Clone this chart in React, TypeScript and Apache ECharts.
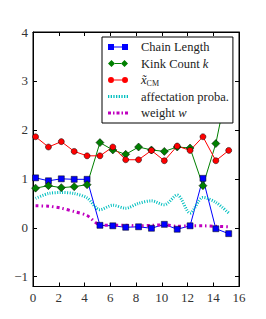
import React, { useEffect, useRef } from "react";
import * as echarts from "echarts";

const xValues = [0.2, 1.2, 2.2, 3.2, 4.2, 5.2, 6.2, 7.2, 8.2, 9.2, 10.2, 11.2, 12.2, 13.2, 14.2, 15.2];
const chainLength = [1.02, 0.96, 1.0, 0.99, 0.99, 0.05, 0.04, 0.01, 0.02, -0.01, 0.07, -0.03, 0.04, 1.01, -0.02, -0.12];
const kinkCount = [0.81, 0.86, 0.82, 0.84, 0.88, 1.74, 1.59, 1.5, 1.65, 1.59, 1.56, 1.65, 1.63, 0.86, 1.72, 3.0];
const xCM = [1.86, 1.65, 1.76, 1.56, 1.47, 1.47, 1.65, 1.39, 1.39, 1.58, 1.37, 1.67, 1.58, 1.86, 1.37, 1.58];
const affectation = [0.6, 0.7, 0.72, 0.7, 0.61, 0.37, 0.46, 0.4, 0.5, 0.55, 0.47, 0.67, 0.3, 0.62, 0.52, 0.3];
const weight = [0.45, 0.44, 0.4, 0.33, 0.25, 0.06, 0.05, 0.05, 0.04, 0.05, 0.06, 0.03, 0.04, 0.04, 0.03, 0.02];

const yTicks = [-1, 0, 1, 2, 3, 4];

const FONT = "Liberation Serif";

const pairs = (ys: number[]) => ys.map((y, i) => [xValues[i], y]);

const minus = (v: number) => String(v).replace("-", "\u2212");

const dottedIcon = (() => {
  let d = "";
  for (let x = 0; x < 20; x += 2.5) d += `M${x},2h1.2v3h-1.2z `;
  return "path://" + d.trim();
})();
const dashDotIcon = "path://M0,2h3v3h-3z M5,2h1.5v3h-1.5z M8.5,2h3v3h-3z M13.5,2h1.5v3h-1.5z M17,2h3v3h-3z";

export default function App() {
  const ref = useRef<HTMLDivElement>(null);
  useEffect(() => {
    const chart = echarts.init(ref.current!, null, { renderer: "svg" });
    const line = { show: true, onZero: false, lineStyle: { color: "#000", width: 1 } };
    const tick = { show: true, inside: true, length: 4, lineStyle: { color: "#000", width: 1 } };
    const markerBorder = { borderColor: "#000", borderWidth: 0.5 };
    chart.setOption({
      animation: false,
      textStyle: { fontFamily: FONT, color: "#222" },
      grid: { left: 33, right: 27, top: 32, bottom: 32.5, containLabel: false, show: true, borderColor: "#000", borderWidth: 1, backgroundColor: "transparent" },
      xAxis: [
        {
          type: "value", min: 0, max: 16, interval: 2, position: "bottom",
          axisLine: line, axisTick: tick, splitLine: { show: false },
          axisLabel: { show: true, margin: 4, color: "#333", fontFamily: FONT, fontSize: 13, formatter: minus },
        },
        {
          type: "value", min: 0, max: 16, interval: 2, position: "top",
          axisLine: line, axisTick: tick, splitLine: { show: false },
          axisLabel: { show: false },
        },
      ],
      yAxis: [
        {
          type: "value", min: -1.2, max: 4, position: "left",
          axisLine: line, axisTick: { ...tick, customValues: yTicks }, splitLine: { show: false },
          axisLabel: { show: true, customValues: yTicks, margin: 5, color: "#333", fontFamily: FONT, fontSize: 13, formatter: minus },
        },
        {
          type: "value", min: -1.2, max: 4, position: "right",
          axisLine: line, axisTick: { ...tick, customValues: yTicks }, splitLine: { show: false },
          axisLabel: { show: false, customValues: yTicks },
        },
      ],
      legend: {
        left: 102, top: 37, orient: "vertical",
        backgroundColor: "#fff", borderColor: "#000", borderWidth: 1, borderRadius: 0,
        padding: [3, 4, 3, 6],
        itemWidth: 20, itemHeight: 7, itemGap: 2.5,
        itemStyle: { borderWidth: 0 },
        textStyle: { fontFamily: FONT, fontSize: 12.5, color: "#222", lineHeight: 14, padding: [0, 0, 0, 8],
          rich: {
            n: { fontFamily: FONT, fontSize: 12.5, color: "#222", lineHeight: 14 },
            it: { fontFamily: FONT, fontStyle: "italic", fontSize: 12.5, color: "#222", lineHeight: 14 },
            sub: { fontFamily: FONT, fontSize: 8, color: "#222", lineHeight: 14, verticalAlign: "bottom", padding: [5, 0, 0, 0] },
          } },
        formatter: (name: string) => {
          if (name === "Kink Count k") return "{n|Kink Count }{it|k}";
          if (name === "xCM") return "{it|x\u0303}{sub|CM}";
          if (name === "weight w") return "{n|weight }{it|w}";
          return "{n|" + name + "}";
        },
        data: [
          { name: "Chain Length", icon: "path://M0,0.5h6v6h-6z M6,3h8v1h-8z M14,0.5h6v6h-6z" },
          { name: "Kink Count k", icon: "path://M0,3.5L3.5,0L7,3.5L3.5,7Z M7,3h6v1h-6z M13,3.5L16.5,0L20,3.5L16.5,7Z" },
          { name: "xCM", icon: "path://M0,3.5a3,3 0 1,0 6,0a3,3 0 1,0 -6,0Z M6,3h8v1h-8z M14,3.5a3,3 0 1,0 6,0a3,3 0 1,0 -6,0Z" },
          { name: "affectation proba.", icon: dottedIcon, itemStyle: { color: "#00bfbf", borderWidth: 0 } },
          { name: "weight w", icon: dashDotIcon, itemStyle: { color: "#bf00bf", borderWidth: 0 } },
        ],
      },
      series: [
        {
          name: "Chain Length", type: "line", data: pairs(chainLength),
          symbol: "rect", symbolSize: 6, color: "#0000ff",
          lineStyle: { color: "#0000ff", width: 1 }, itemStyle: { color: "#0000ff", ...markerBorder },
        },
        {
          name: "Kink Count k", type: "line", data: pairs(kinkCount),
          symbol: "diamond", symbolSize: 8, color: "#008000",
          lineStyle: { color: "#008000", width: 1 }, itemStyle: { color: "#008000", ...markerBorder },
        },
        {
          name: "xCM", type: "line", data: pairs(xCM),
          symbol: "circle", symbolSize: 6, color: "#ff0000",
          lineStyle: { color: "#ff0000", width: 1 }, itemStyle: { color: "#ff0000", ...markerBorder },
        },
        {
          name: "affectation proba.", type: "line", data: pairs(affectation),
          symbol: "none", color: "#00bfbf", smooth: 0.3,
          lineStyle: { color: "#00bfbf", width: 3, type: [1, 1.5] },
        },
        {
          name: "weight w", type: "line", data: pairs(weight),
          symbol: "none", color: "#bf00bf", smooth: 0.3,
          lineStyle: { color: "#bf00bf", width: 3, type: [3, 3, 1.5, 3] },
        },
      ],
    });
    return () => chart.dispose();
  }, []);
  return <div ref={ref} style={{ position: "absolute", left: 0, top: 0, width: 266, height: 319 }} />;
}
